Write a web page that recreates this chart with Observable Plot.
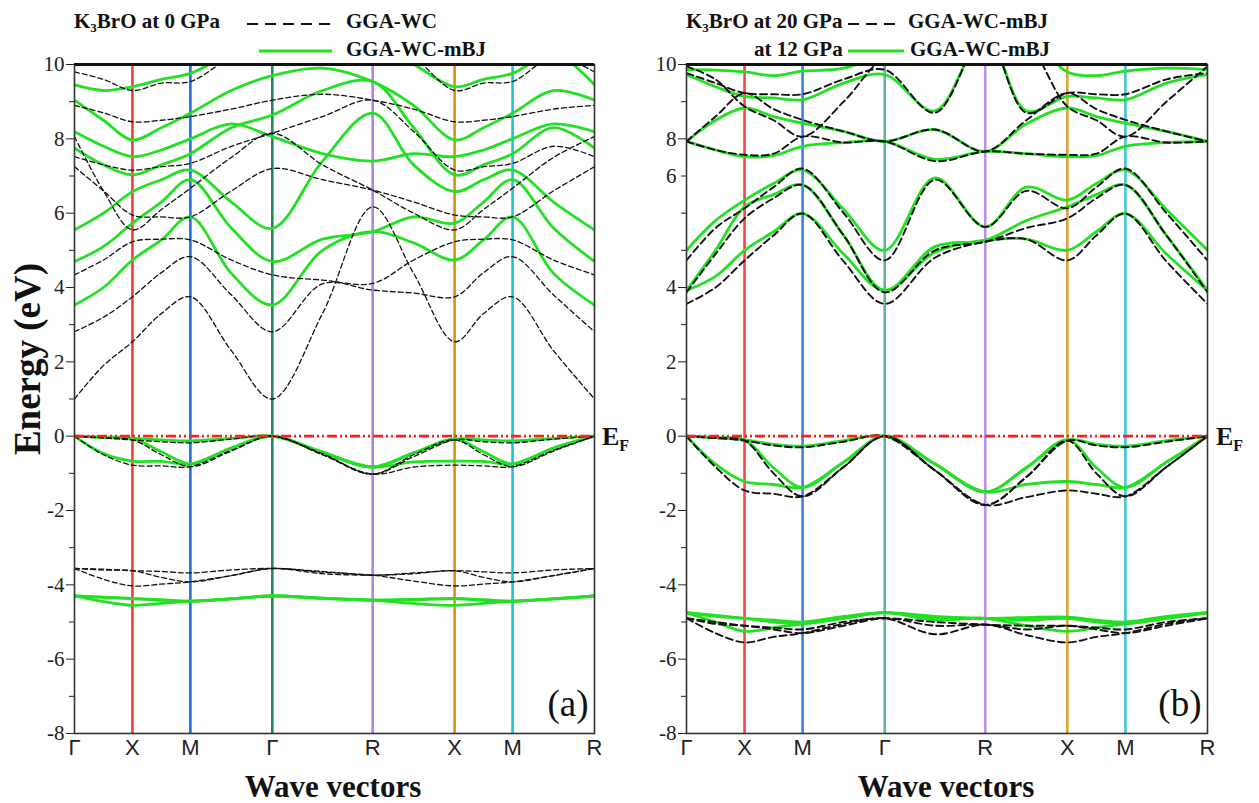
<!DOCTYPE html>
<html><head><meta charset="utf-8">
<script src="https://cdn.jsdelivr.net/npm/d3@7"></script>
<script src="https://cdn.jsdelivr.net/npm/@observablehq/plot@0.6"></script>
<style>
body{margin:0;background:#fff;}
#root{position:relative;width:1259px;height:803px;overflow:hidden;font-family:"Liberation Serif",serif;color:#111;}
.abs{position:absolute;white-space:nowrap;line-height:1;}
.leg{font-weight:bold;font-size:21px;}
.title{font-weight:bold;font-size:31px;}
.ef{font-weight:bold;font-size:26px;}
.ef sub{font-size:16px;vertical-align:-6px;}
.leg sub{font-size:13px;vertical-align:-4px;}
</style></head><body><div id="root"></div><script>
// ---- k-path ----
const kLabels = ["Γ","X","M","Γ","R","X","M","R"];
const kTicks = [0, 0.5, 1.0, 1.7071, 2.5731, 3.2802, 3.7802, 4.4874];
const kSamples = [0, 0.25, 0.5, 0.75, 1.0, 1.3536, 1.7071, 2.1401, 2.5731, 2.9267, 3.2802, 3.5302, 3.7802, 4.1338, 4.4874];

// ---- panel (a): K3BrO at 0 GPa, GGA-WC (dashed) ----
const bandsA_WC = [
  [-3.56,-3.58,-3.62,-3.64,-3.68,-3.6,-3.56,-3.64,-3.74,-3.68,-3.62,-3.65,-3.68,-3.6,-3.56],
  [-3.56,-3.85,-4.03,-3.98,-3.92,-3.75,-3.56,-3.66,-3.74,-3.9,-4.03,-3.98,-3.92,-3.75,-3.56],
  [-3.56,-3.6,-3.62,-3.8,-3.92,-3.75,-3.56,-3.7,-3.74,-3.7,-3.62,-3.8,-3.92,-3.75,-3.56],
  [0,-0.05,-0.1,-0.15,-0.18,-0.08,0,-0.47,-1.02,-0.55,-0.1,-0.15,-0.18,-0.08,0],
  [0,-0.5,-0.78,-0.8,-0.82,-0.38,0,-0.5,-1.02,-0.83,-0.78,-0.8,-0.82,-0.38,0],
  [0,-0.04,-0.1,-0.5,-0.82,-0.4,0,-0.5,-1.02,-0.5,-0.1,-0.5,-0.82,-0.4,0],
  [1.0,1.9,2.54,3.3,3.75,2.3,1.0,3.3,6.17,4.38,2.54,3.3,3.75,2.3,1.0],
  [2.81,3.2,3.75,4.4,4.83,3.8,2.81,4.1,3.93,3.85,3.75,4.4,4.83,3.8,2.81],
  [4.34,4.74,5.23,5.3,5.28,4.74,4.34,4.2,4.11,4.74,5.23,5.3,5.28,4.74,4.34],
  [7.25,6.6,5.95,5.9,5.9,6.6,7.2,6.9,6.62,6.3,5.95,5.9,5.9,6.6,7.25],
  [8.06,6.6,5.55,6.1,6.67,7.5,8.15,7.3,6.62,6.0,5.55,6.1,6.67,7.5,8.06],
  [7.52,7.3,7.16,7.25,7.34,7.8,8.15,8.6,9.04,8.2,7.16,7.25,7.34,7.8,7.52],
  [8.9,8.7,8.46,8.5,8.6,8.8,9.04,9.2,9.04,8.8,8.46,8.5,8.6,8.8,8.9],
  [9.8,9.6,9.3,9.5,9.54,10.2,10.6,10.8,10.8,10.2,9.3,9.5,9.54,10.2,9.8]
];
// ---- panel (a): GGA-WC-mBJ (green) ----
const bandsA_mBJ = [
  [-4.3,-4.33,-4.37,-4.4,-4.44,-4.38,-4.3,-4.36,-4.41,-4.4,-4.37,-4.4,-4.44,-4.38,-4.3],
  [-4.3,-4.45,-4.55,-4.5,-4.44,-4.38,-4.3,-4.36,-4.41,-4.5,-4.55,-4.5,-4.44,-4.38,-4.3],
  [-4.3,-4.34,-4.37,-4.42,-4.44,-4.37,-4.3,-4.37,-4.41,-4.39,-4.37,-4.42,-4.44,-4.37,-4.3],
  [0,-0.03,-0.06,-0.1,-0.13,-0.06,0,-0.42,-0.83,-0.45,-0.08,-0.1,-0.13,-0.06,0],
  [0,-0.47,-0.67,-0.68,-0.75,-0.32,0,-0.45,-0.83,-0.69,-0.67,-0.68,-0.75,-0.32,0],
  [0,-0.03,-0.06,-0.42,-0.75,-0.32,0,-0.45,-0.83,-0.45,-0.08,-0.42,-0.75,-0.32,0],
  [3.53,4.0,4.74,5.28,5.9,4.38,3.53,5.0,5.5,5.2,4.74,5.28,5.9,4.38,3.53],
  [4.7,5.1,5.73,6.3,6.9,5.6,4.7,5.3,5.5,5.9,5.73,6.3,6.9,5.6,4.7],
  [5.55,6.0,6.58,6.9,7.16,6.3,5.59,7.4,8.69,7.3,6.58,6.9,7.16,6.3,5.55],
  [7.75,7.3,7.03,7.3,7.6,8.3,8.64,9.3,9.54,8.3,7.03,7.3,7.6,8.3,7.75],
  [8.19,7.8,7.52,7.7,8.0,8.4,8.06,7.6,7.4,7.6,7.52,7.7,8.0,8.4,8.19],
  [9.04,8.5,7.97,8.3,8.69,9.3,9.7,9.9,9.54,8.9,7.97,8.3,8.69,9.3,9.04],
  [9.45,9.3,9.4,9.6,9.76,10.3,10.5,10.5,10.5,10.0,9.4,9.6,9.76,10.3,9.45]
];
// ---- panel (b): K3BrO at 20 GPa, GGA-WC-mBJ (dashed) ----
const bandsB_20GPa = [
  [-4.9,-5.0,-5.1,-5.15,-5.2,-5.0,-4.9,-5.0,-5.07,-5.1,-5.1,-5.15,-5.2,-5.0,-4.9],
  [-4.9,-5.3,-5.55,-5.4,-5.3,-5.05,-4.9,-5.33,-5.07,-5.35,-5.55,-5.4,-5.3,-5.05,-4.9],
  [-4.9,-5.05,-5.1,-5.2,-5.3,-5.1,-4.9,-5.1,-5.07,-5.2,-5.1,-5.2,-5.3,-5.1,-4.9],
  [0,-0.05,-0.12,-0.25,-0.3,-0.15,0,-0.92,-1.85,-1.1,-0.12,-0.25,-0.3,-0.15,0],
  [0,-0.83,-1.46,-1.55,-1.62,-0.83,0,-0.92,-1.85,-1.64,-1.46,-1.55,-1.62,-0.83,0],
  [0,-0.05,-0.12,-1.0,-1.62,-0.83,0,-0.92,-1.85,-1.1,-0.12,-1.0,-1.62,-0.83,0],
  [3.56,4.0,4.73,5.4,5.99,4.7,3.56,4.8,5.23,5.3,4.73,5.4,5.99,4.7,3.56],
  [3.87,4.9,5.86,6.4,6.76,5.4,3.87,5.0,5.23,5.6,5.86,6.4,6.76,5.4,3.87],
  [4.73,5.6,6.13,6.7,7.2,6.0,4.73,6.9,5.63,6.6,6.13,6.7,7.2,6.0,4.73],
  [7.93,7.7,7.57,7.6,8.06,7.9,7.93,7.4,7.66,7.6,7.57,7.6,8.06,7.9,7.93],
  [7.93,8.6,9.23,8.8,8.51,8.2,7.93,8.25,7.66,8.5,9.23,8.8,8.51,8.2,7.93],
  [9.77,9.5,9.23,9.2,9.2,9.6,9.86,8.7,10.8,8.7,9.23,9.2,9.2,9.6,9.77],
  [9.95,9.6,8.87,8.5,8.06,9.0,10.2,10.6,11,10.6,8.87,8.5,8.06,9.0,9.95]
];
// ---- panel (b): at 12 GPa, GGA-WC-mBJ (green) ----
const bandsB_12GPa = [
  [-4.75,-4.82,-4.9,-4.95,-5.0,-4.85,-4.75,-4.85,-4.9,-4.88,-4.87,-4.95,-5.0,-4.85,-4.75],
  [-4.75,-5.0,-5.25,-5.15,-5.05,-4.9,-4.75,-4.95,-4.9,-5.1,-5.25,-5.15,-5.05,-4.9,-4.75],
  [-4.75,-4.85,-4.9,-5.0,-5.05,-4.9,-4.75,-4.9,-4.9,-4.95,-4.9,-5.0,-5.05,-4.9,-4.75],
  [0,-0.04,-0.1,-0.22,-0.27,-0.12,0,-0.75,-1.5,-0.85,-0.1,-0.22,-0.27,-0.12,0],
  [0,-0.75,-1.22,-1.3,-1.38,-0.7,0,-0.75,-1.5,-1.3,-1.22,-1.3,-1.38,-0.7,0],
  [0,-0.04,-0.1,-0.85,-1.38,-0.7,0,-0.75,-1.5,-0.85,-0.1,-0.85,-1.38,-0.7,0],
  [3.92,4.3,5.0,5.5,5.99,4.9,3.92,4.95,5.27,5.3,5.0,5.5,5.99,4.9,3.92],
  [3.92,5.0,6.17,6.5,6.76,5.4,3.92,5.1,5.27,5.8,6.17,6.5,6.76,5.4,3.92],
  [5.0,5.8,6.35,6.8,7.16,6.1,5.0,6.95,5.63,6.7,6.35,6.8,7.16,6.1,5.0],
  [7.93,7.7,7.52,7.55,7.8,7.9,7.93,7.45,7.66,7.6,7.52,7.55,7.8,7.9,7.93],
  [7.93,8.5,8.83,8.6,8.42,8.2,7.93,8.25,7.66,8.4,8.83,8.6,8.42,8.2,7.93],
  [9.73,9.4,9.14,9.1,9.05,9.5,9.73,8.75,10.8,8.75,9.14,9.1,9.05,9.5,9.73],
  [9.86,9.85,9.8,9.7,9.82,9.9,10.3,10.8,11,10.8,9.8,9.7,9.82,9.9,9.86]
];

// ---- axis ticks ----
const yMajorA = [-8,-6,-4,-2,0,2,4,6,8,10];
const yMinorA = [-7,-5,-3,-1,1,3,5,7,9];
const yMajorB = [-8,-6,-4,-2,0,2,4,8,10];
const yLabeledB = [-8,-6,-4,-2,0,2,4,7,8,10];
const yLabelsB = ["-8","-6","-4","-2","0","2","4","6","8","10"];
const yMinorB = [-7,-5,-3,-1,1,3,5,6,7,9];
const symColorsA = ["#f23b3b","#1f6fdc","#1e8a5c","#b582e6","#d4930f","#22c0d4"];
const symColorsB = ["#ff4242","#3b82e3","#5cb899","#bb90ea","#d9a232","#3cc9da"];
const greenColor = "#22e022";

function toRows(bands) {
  return bands.flatMap((b, i) => b.map((e, j) => ({k: kSamples[j], e, band: i})));
}

function panel(o) {
  const symRows = kTicks.slice(1, -1).map((k, i) => ({k, c: o.symColors[i]}));
  return Plot.plot({
    width: o.width, height: 803,
    marginLeft: o.ml, marginRight: o.mr, marginTop: 64, marginBottom: 70,
    x: {domain: [0, kTicks[kTicks.length - 1]]},
    y: {domain: [-8, 10]},
    color: {type: "identity"},
    style: {background: "transparent", fontFamily: "Liberation Serif", color: "#222", overflow: "visible"},
    marks: [
      Plot.ruleX(symRows, {x: "k", stroke: "c", strokeWidth: 2.6}),
      Plot.line(toRows(o.green), {x: "k", y: "e", z: "band", stroke: greenColor, strokeWidth: 2.8, curve: "catmull-rom", clip: true}),
      Plot.line(toRows(o.black), {x: "k", y: "e", z: "band", stroke: "#111", strokeWidth: o.bw, strokeDasharray: o.dash, curve: "catmull-rom", clip: true}),
      Plot.ruleY([0], {stroke: "#ff1f1f", strokeWidth: 2.6, strokeDasharray: "10,3,2,3,2,3"}),
      Plot.frame({stroke: "#333", strokeWidth: 1.6}),
      Plot.ruleY([10], {stroke: "#111", strokeWidth: 3.2}),
      Plot.axisY(o.yMinor, {tickSize: 5, tickFormat: () => "", label: null}),
      Plot.axisY(o.yMajor, {tickSize: 8, tickFormat: () => "", label: null}),
      Plot.axisY(o.yLabeled, {tickSize: 0, tickPadding: 10, fontSize: 21, tickFormat: d => o.yLabels[o.yLabeled.indexOf(d)], label: null}),
      Plot.axisX(kTicks, {tickSize: 0, tickPadding: 6, fontSize: 22, fontFamily: "Liberation Sans", tickFormat: d => kLabels[kTicks.indexOf(d)], label: null}),
      Plot.text([o.tag], {frameAnchor: "bottom-right", dx: -6, dy: -18, fontSize: 37, fontFamily: "Liberation Serif", fill: "#111"})
    ]
  });
}

const root = document.getElementById("root");
function place(el, left, top) {
  const d = document.createElement("div");
  d.className = "abs"; d.style.left = left + "px"; d.style.top = top + "px";
  d.appendChild(el); root.appendChild(d); return d;
}
const pa = panel({width: 620, ml: 74, mr: 26, black: bandsA_WC, green: bandsA_mBJ, bw: 1.3, dash: "5,3",
  symColors: symColorsA, yMajor: yMajorA, yMinor: yMinorA, yLabeled: yMajorA, yLabels: yMajorA.map(String), tag: "(a)"});
place(pa, 0, 0);
const pb = panel({width: 639, ml: 66, mr: 52, black: bandsB_20GPa, green: bandsB_12GPa, bw: 1.9, dash: "7,4",
  symColors: symColorsB, yMajor: yMajorB, yMinor: yMinorB, yLabeled: yLabeledB, yLabels: yLabelsB, tag: "(b)"});
place(pb, 620, 0);

function html(cls, s, left, top, extra) {
  const d = document.createElement("div");
  d.className = "abs " + cls; d.innerHTML = s;
  d.style.left = left + "px"; d.style.top = top + "px";
  if (extra) Object.assign(d.style, extra);
  root.appendChild(d); return d;
}
function sample(x1, x2, y, stroke, width, dash) {
  const ns = "http://www.w3.org/2000/svg";
  const s = document.createElementNS(ns, "svg");
  s.setAttribute("width", x2 - x1); s.setAttribute("height", 8);
  s.style.position = "absolute"; s.style.left = x1 + "px"; s.style.top = (y - 4) + "px";
  const l = document.createElementNS(ns, "line");
  l.setAttribute("x1", 0); l.setAttribute("x2", x2 - x1); l.setAttribute("y1", 4); l.setAttribute("y2", 4);
  l.setAttribute("stroke", stroke); l.setAttribute("stroke-width", width);
  if (dash) l.setAttribute("stroke-dasharray", dash);
  s.appendChild(l); root.appendChild(s);
}
// legends
html("leg", "K<sub>3</sub>BrO at 0 GPa", 74, 11);
sample(247, 330, 24, "#111", 2.2, "11,7");
html("leg", "GGA-WC", 346, 11);
sample(259, 332, 51, greenColor, 3.2);
html("leg", "GGA-WC-mBJ", 346, 39);

html("leg", "K<sub>3</sub>BrO at 20 GPa", 686, 11);
sample(848, 902, 24, "#111", 2.2, "11,7");
html("leg", "GGA-WC-mBJ", 908, 11);
html("leg", "at 12 GPa", 754, 39);
sample(848, 904, 51, greenColor, 3.2);
html("leg", "GGA-WC-mBJ", 910, 39);

// E_F labels
html("ef", "E<sub>F</sub>", 602, 424);
html("ef", "E<sub>F</sub>", 1216, 424);
// axis titles
html("title", "Energy (eV)", 27, 359, {transform: "translate(-50%,-50%) rotate(-90deg)", fontSize: "37px"});
html("title", "Wave vectors", 333, 771, {transform: "translateX(-50%)"});
html("title", "Wave vectors", 946, 771, {transform: "translateX(-50%)"});
</script></body></html>
